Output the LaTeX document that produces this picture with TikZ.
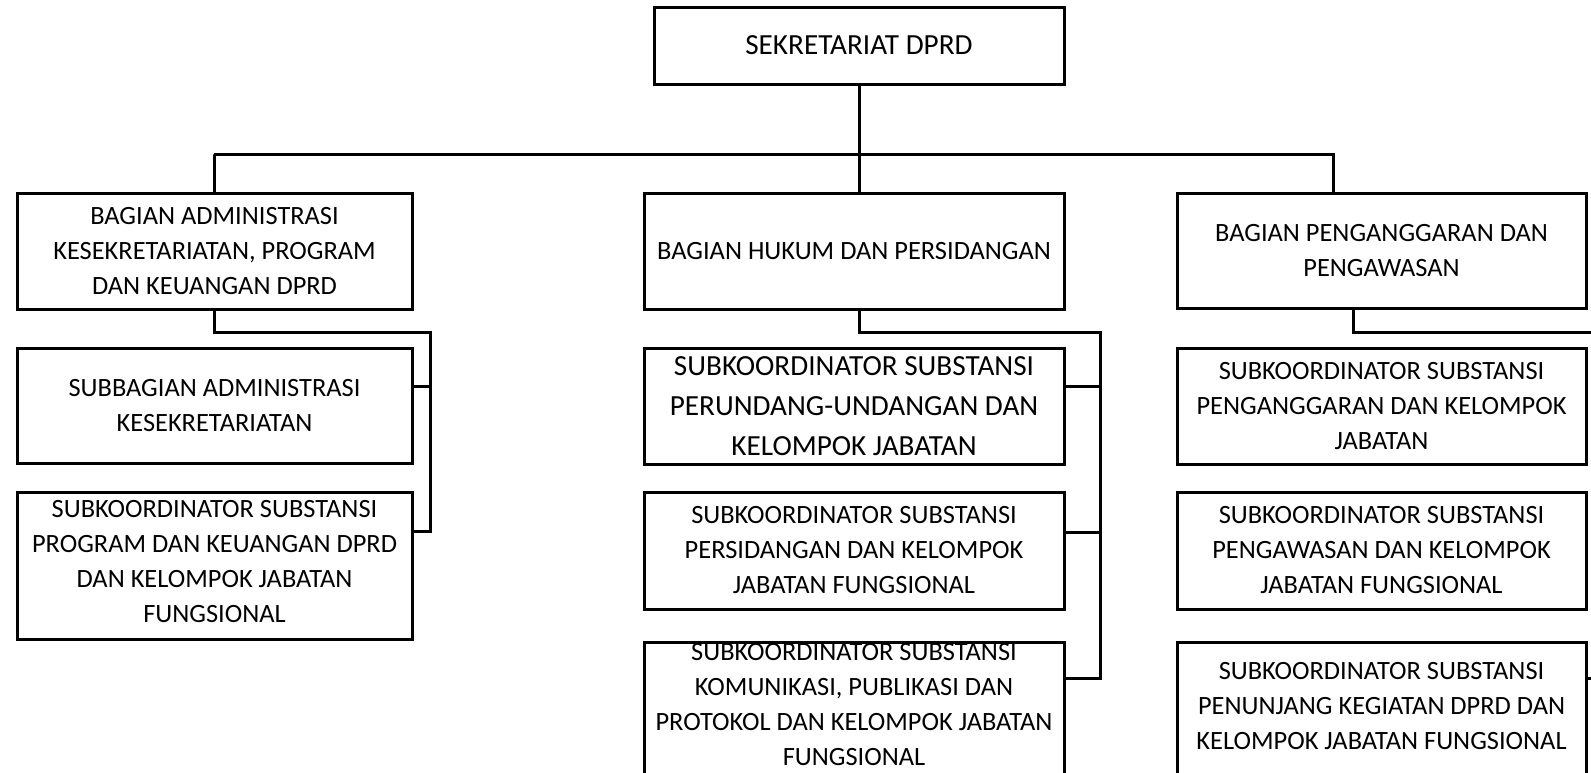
\documentclass[tikz,border=0pt]{standalone}
\usepackage{fontspec}
\setmainfont{Carlito}

\tikzset{
  unitbox/.style={draw, line width=1.5pt, align=center, inner sep=0pt},
  smalltext/.style={font=\fontsize{13.2}{17.5}\selectfont},
  bigtext/.style={font=\fontsize{14.6}{20}\selectfont},
  link/.style={line width=1.5pt},
}

\begin{document}
\begin{tikzpicture}[x=0.5pt, y=-0.5pt]
    \useasboundingbox (0,0) rectangle (1591,772);

    % Top box
    \node[unitbox, bigtext, minimum width=205pt, minimum height=38.5pt] (sekretariat) at (859,45.5) {SEKRETARIAT DPRD};

    % Bagian boxes
    \node[unitbox, smalltext, minimum width=197.5pt, minimum height=58pt] (bagAdm) at (214.5,251) {BAGIAN ADMINISTRASI\\KESEKRETARIATAN, PROGRAM\\DAN KEUANGAN DPRD};
    \node[unitbox, smalltext, minimum width=210pt, minimum height=58pt] (bagHukum) at (854,251) {BAGIAN HUKUM DAN PERSIDANGAN};
    \node[unitbox, smalltext, minimum width=204.5pt, minimum height=57.5pt] (bagAnggaran) at (1381.5,250.5) {BAGIAN PENGANGGARAN DAN\\PENGAWASAN};

    % Left column
    \node[unitbox, smalltext, minimum width=197.5pt, minimum height=57.5pt] (subAdm) at (214.5,405.5) {SUBBAGIAN ADMINISTRASI\\KESEKRETARIATAN};
    \node[unitbox, smalltext, minimum width=197.5pt, minimum height=73.5pt, text depth=4pt] (subProgram) at (214.5,565.5) {SUBKOORDINATOR SUBSTANSI\\PROGRAM DAN KEUANGAN DPRD\\DAN KELOMPOK JABATAN\\FUNGSIONAL};

    % Middle column
    \node[unitbox, bigtext, minimum width=210pt, minimum height=58pt] (subUndang) at (854,406) {SUBKOORDINATOR SUBSTANSI\\PERUNDANG-UNDANGAN DAN\\KELOMPOK JABATAN};
    \node[unitbox, smalltext, minimum width=210pt, minimum height=58.5pt] (subSidang) at (854,550.5) {SUBKOORDINATOR SUBSTANSI\\PERSIDANGAN DAN KELOMPOK\\JABATAN FUNGSIONAL};
    \node[unitbox, smalltext, minimum width=210pt, minimum height=68pt, text depth=6pt] (subProtokol) at (854,710) {SUBKOORDINATOR SUBSTANSI\\KOMUNIKASI, PUBLIKASI DAN\\PROTOKOL DAN KELOMPOK JABATAN\\FUNGSIONAL};

    % Right column
    \node[unitbox, smalltext, minimum width=204.5pt, minimum height=58pt] (subAnggaran) at (1381.5,406) {SUBKOORDINATOR SUBSTANSI\\PENGANGGARAN DAN KELOMPOK\\JABATAN};
    \node[unitbox, smalltext, minimum width=204.5pt, minimum height=58.5pt] (subAwas) at (1381.5,550.5) {SUBKOORDINATOR SUBSTANSI\\PENGAWASAN DAN KELOMPOK\\JABATAN FUNGSIONAL};
    \node[unitbox, smalltext, minimum width=204.5pt, minimum height=68pt, text depth=4pt] (subPenunjang) at (1381.5,710) {SUBKOORDINATOR SUBSTANSI\\PENUNJANG KEGIATAN DPRD DAN\\KELOMPOK JABATAN FUNGSIONAL};

    % Top connectors
    \coordinate (barL) at (214,154);
    \coordinate (barR) at (1333,154);
    \draw[link] (sekretariat.south) -- (sekretariat.south |- bagHukum.north);
    \draw[link] (bagAdm.north) |- (barL) -- (barR) -- (barR |- bagAnggaran.north);

    % Left branch
    \coordinate (spineL) at (430,332);
    \coordinate (tapAdm) at ([yshift=9.75pt]subAdm.east);
    \coordinate (tapProgram) at ([yshift=17.25pt]subProgram.east);
    \draw[link] (bagAdm.south) |- (spineL) -- (spineL |- tapProgram) -- (tapProgram);
    \draw[link] (tapAdm) -- (spineL |- tapAdm);

    % Middle branch
    \coordinate (spineM) at (1100,332);
    \coordinate (tapUndang) at ([yshift=10pt]subUndang.east);
    \coordinate (tapSidang) at ([yshift=9.25pt]subSidang.east);
    \coordinate (tapProtokol) at ([yshift=16pt]subProtokol.east);
    \draw[link] (sekretariat.south |- bagHukum.south) |- (spineM) -- (spineM |- tapProtokol) -- (tapProtokol);
    \draw[link] (tapUndang) -- (spineM |- tapUndang);
    \draw[link] (tapSidang) -- (spineM |- tapSidang);

    % Right branch (runs off the edge)
    \coordinate (edgeR) at (1591,332);
    \coordinate (tapPenunjang) at ([yshift=16pt]subPenunjang.east);
    \draw[link] ([xshift=-14.25pt]bagAnggaran.south) |- (edgeR);
    \draw[link] (tapPenunjang) -- (tapPenunjang -| edgeR);
\end{tikzpicture}
\end{document}
